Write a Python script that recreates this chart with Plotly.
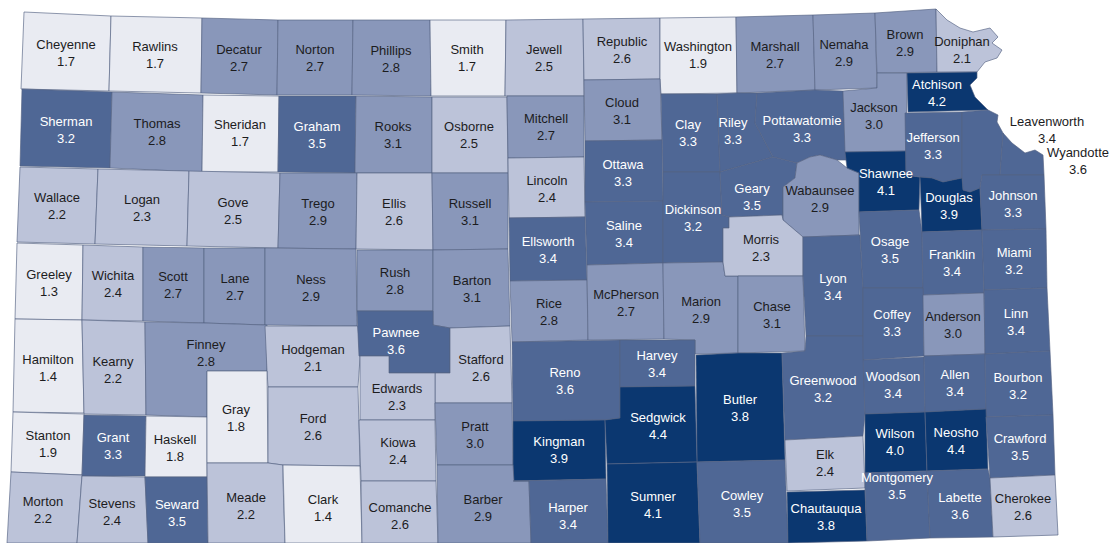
import plotly.graph_objects as go

COUNTIES = ["Cheyenne","Rawlins","Decatur","Norton","Phillips","Smith","Jewell","Republic","Washington","Marshall","Nemaha","Brown","Doniphan",
"Sherman","Thomas","Sheridan","Graham","Rooks","Osborne","Mitchell","Cloud","Clay","Riley","Pottawatomie","Jackson","Atchison",
"Wallace","Logan","Gove","Trego","Ellis","Russell","Lincoln","Ottawa","Saline","Dickinson","Geary","Wabaunsee","Shawnee","Jefferson","Leavenworth","Wyandotte",
"Greeley","Wichita","Scott","Lane","Ness","Rush","Barton","Ellsworth","Rice","McPherson","Marion","Morris","Chase","Lyon","Osage","Douglas","Johnson","Franklin","Miami",
"Hamilton","Kearny","Finney","Hodgeman","Pawnee","Stafford","Edwards","Reno","Harvey","Butler","Greenwood","Coffey","Anderson","Linn","Woodson","Allen","Bourbon",
"Stanton","Grant","Haskell","Gray","Ford","Kiowa","Pratt","Kingman","Sedgwick","Wilson","Neosho","Crawford","Elk",
"Morton","Stevens","Seward","Meade","Clark","Comanche","Barber","Harper","Sumner","Cowley","Chautauqua","Montgomery","Labette","Cherokee"]
RATES = [1.7,1.7,2.7,2.7,2.8,1.7,2.5,2.6,1.9,2.7,2.9,2.9,2.1,
3.2,2.8,1.7,3.5,3.1,2.5,2.7,3.1,3.3,3.3,3.3,3.0,4.2,
2.2,2.3,2.5,2.9,2.6,3.1,2.4,3.3,3.4,3.2,3.5,2.9,4.1,3.3,3.4,3.6,
1.3,2.4,2.7,2.7,2.9,2.8,3.1,3.4,2.8,2.7,2.9,2.3,3.1,3.4,3.5,3.9,3.3,3.4,3.2,
1.4,2.2,2.8,2.1,3.6,2.6,2.3,3.6,3.4,3.8,3.2,3.3,3.0,3.4,3.4,3.4,3.2,
1.9,3.3,1.8,1.8,2.6,2.4,3.0,3.9,4.4,4.0,4.4,3.5,2.4,
2.2,2.4,3.5,2.2,1.4,2.6,2.9,3.4,4.1,3.5,3.8,3.5,3.6,2.6]

BIN_TOPS = [2.0, 2.65, 3.15, 3.7, 9.9]
BIN_COLORS = ["#e9ebf2", "#bcc3d9", "#8997ba", "#4f6795", "#0b3770"]
INK_ON_BIN = ["#1c1c1e", "#1c1c1e", "#1c1c1e", "#ffffff", "#ffffff"]

# County outlines (map geometry, in the picture's own coordinate frame)
OUTLINES = {
"Cheyenne":[(24,12),(111,16),(109,91),(21,89)],
"Rawlins":[(111,16),(202,18),(201,93),(109,91)],
"Decatur":[(202,18),(278,20),(277,95),(201,93)],
"Norton":[(278,20),(353,20),(352,95),(277,95)],
"Phillips":[(353,20),(430,20),(431,96),(352,95)],
"Smith":[(430,20),(506,20),(505,96),(431,96)],
"Jewell":[(506,20),(583,19),(584,96),(505,96)],
"Republic":[(583,19),(660,18),(660,79),(584,80)],
"Washington":[(660,18),(736,17),(737,93),(661,94),(660,79)],
"Marshall":[(736,17),(813,15),(815,90),(737,93)],
"Nemaha":[(813,15),(875,13),(877,88),(815,90)],
"Brown":[(875,13),(936,9),(937,72),(877,73)],
"Doniphan":[(936,9),(947,20),(960,28),(973,32),(990,28),(998,37),(992,43),(1002,50),(997,58),(985,62),(977,72),(937,72)],
"Sherman":[(22,89),(112,92),(110,168),(20,166)],
"Thomas":[(112,92),(203,95),(202,172),(110,168)],
"Sheridan":[(203,95),(279,96),(278,172),(202,172)],
"Graham":[(279,96),(356,96),(355,173),(278,172)],
"Rooks":[(356,96),(432,97),(432,173),(355,173)],
"Osborne":[(432,97),(507,97),(508,173),(432,173)],
"Mitchell":[(507,96),(584,96),(584,157),(508,158)],
"Cloud":[(584,80),(660,79),(662,140),(585,141)],
"Clay":[(661,94),(717,94),(720,172),(663,172)],
"Riley":[(717,94),(737,93),(757,93),(755,123),(773,157),(720,172)],
"Pottawatomie":[(757,93),(815,90),(843,91),(845,151),(846,160),(837,160),(820,155),(810,157),(797,163),(773,157),(755,123)],
"Jackson":[(843,91),(877,88),(877,73),(907,73),(906,151),(845,152)],
"Atchison":[(907,73),(977,72),(977,78),(970,85),(975,97),(988,110),(908,112)],
"Wallace":[(20,167),(98,169),(95,244),(17,242)],
"Logan":[(98,169),(189,171),(187,246),(95,244)],
"Gove":[(189,171),(280,173),(278,248),(187,246)],
"Trego":[(280,173),(357,173),(356,249),(278,248)],
"Ellis":[(357,173),(432,173),(433,250),(356,249)],
"Russell":[(432,173),(508,173),(508,249),(433,250)],
"Lincoln":[(508,158),(584,157),(585,217),(509,218)],
"Ottawa":[(585,141),(662,140),(663,201),(585,202)],
"Saline":[(585,202),(663,201),(663,263),(587,265)],
"Dickinson":[(663,172),(720,172),(722,215),(729,217),(729,228),(723,228),(723,262),(663,263)],
"Geary":[(720,172),(773,157),(797,163),(795,178),(783,187),(783,220),(782,215),(729,217),(722,215)],
"Wabaunsee":[(797,163),(810,157),(820,155),(837,160),(847,168),(859,173),(859,235),(803,237),(783,220),(783,187),(795,178)],
"Shawnee":[(845,152),(906,151),(906,175),(920,177),(919,210),(859,212),(859,173),(847,168),(846,160)],
"Jefferson":[(905,113),(962,112),(962,178),(943,182),(932,178),(920,177),(906,175)],
"Leavenworth":[(962,112),(988,110),(998,115),(997,122),(1003,133),(1000,175),(982,175),(980,188),(970,192),(963,190),(962,178)],
"Wyandotte":[(1003,133),(1012,143),(1025,153),(1035,150),(1043,155),(1044,175),(1000,175)],
"Greeley":[(17,243),(83,245),(82,320),(15,319)],
"Wichita":[(83,245),(143,247),(143,321),(82,320)],
"Scott":[(143,247),(204,248),(204,323),(143,321)],
"Lane":[(204,248),(265,248),(265,325),(204,323)],
"Ness":[(265,248),(356,249),(357,326),(265,325)],
"Rush":[(357,250),(433,250),(433,311),(357,311)],
"Barton":[(433,250),(508,249),(510,326),(450,328),(433,325)],
"Ellsworth":[(509,218),(585,217),(587,280),(510,281)],
"Rice":[(510,281),(587,280),(588,340),(512,342)],
"McPherson":[(587,265),(663,263),(664,339),(588,340)],
"Marion":[(663,263),(723,262),(725,276),(738,276),(738,353),(695,354),(695,340),(664,339)],
"Morris":[(729,217),(782,215),(783,220),(803,237),(803,276),(725,276),(723,262),(723,228),(729,228)],
"Chase":[(738,276),(803,276),(805,351),(738,353)],
"Lyon":[(803,237),(860,235),(863,288),(863,336),(806,336),(803,276)],
"Osage":[(859,212),(919,210),(922,232),(923,288),(863,288),(860,235)],
"Douglas":[(920,177),(932,178),(943,182),(962,178),(963,190),(970,192),(980,188),(982,230),(922,232)],
"Johnson":[(982,175),(1044,175),(1046,229),(982,230),(980,188)],
"Franklin":[(922,232),(982,230),(984,293),(923,295)],
"Miami":[(982,230),(1046,229),(1047,288),(984,290)],
"Hamilton":[(15,319),(82,320),(84,413),(13,412)],
"Kearny":[(82,320),(145,322),(146,415),(84,414)],
"Finney":[(145,322),(204,323),(265,325),(267,325),(267,371),(207,371),(207,417),(146,415)],
"Hodgeman":[(265,326),(358,326),(360,358),(358,387),(268,387),(267,371)],
"Pawnee":[(357,311),(433,311),(433,325),(450,328),(450,373),(389,373),(389,356),(359,356)],
"Stafford":[(450,328),(510,326),(512,403),(435,403),(435,373),(450,373)],
"Edwards":[(360,356),(389,356),(389,373),(435,373),(435,420),(360,420)],
"Reno":[(512,342),(620,340),(620,418),(605,420),(513,421)],
"Harvey":[(620,340),(695,340),(695,386),(620,387)],
"Butler":[(696,355),(738,353),(782,353),(785,460),(697,462)],
"Greenwood":[(782,353),(805,351),(806,336),(863,336),(865,414),(863,436),(785,440)],
"Coffey":[(863,288),(923,288),(924,356),(863,360)],
"Anderson":[(923,295),(984,293),(985,354),(924,356)],
"Linn":[(984,290),(1047,288),(1050,351),(985,354)],
"Woodson":[(863,360),(924,357),(925,412),(865,414)],
"Allen":[(924,356),(985,354),(986,409),(925,412)],
"Bourbon":[(985,354),(1050,351),(1053,415),(986,417)],
"Stanton":[(13,412),(84,414),(82,475),(11,472)],
"Grant":[(84,415),(146,416),(145,476),(82,476)],
"Haskell":[(146,416),(207,417),(207,477),(145,477)],
"Gray":[(207,371),(267,371),(268,463),(207,463)],
"Ford":[(268,387),(358,387),(360,466),(283,465),(268,463)],
"Kiowa":[(359,420),(435,420),(436,481),(361,481)],
"Pratt":[(435,403),(512,403),(513,465),(437,465)],
"Kingman":[(513,421),(605,420),(606,479),(513,481)],
"Sedgwick":[(620,387),(695,386),(697,462),(607,464),(605,420),(620,418)],
"Wilson":[(865,414),(925,412),(927,471),(865,473)],
"Neosho":[(925,412),(986,409),(988,469),(927,471)],
"Crawford":[(986,417),(1053,415),(1055,475),(990,478)],
"Elk":[(785,440),(863,436),(865,488),(787,491)],
"Morton":[(11,472),(82,475),(77,543),(7,543)],
"Stevens":[(82,476),(145,477),(148,543),(77,543)],
"Seward":[(145,477),(207,477),(208,543),(148,543)],
"Meade":[(207,463),(268,463),(283,465),(283,481),(285,543),(208,543)],
"Clark":[(283,465),(360,466),(362,543),(285,543)],
"Comanche":[(361,481),(436,481),(438,543),(362,543)],
"Barber":[(437,465),(513,465),(514,481),(529,481),(531,543),(438,543)],
"Harper":[(513,481),(606,479),(608,543),(531,543),(529,481)],
"Sumner":[(607,464),(697,462),(700,543),(608,543)],
"Cowley":[(697,462),(785,460),(788,543),(700,543)],
"Chautauqua":[(787,492),(865,490),(867,541),(788,543)],
"Montgomery":[(865,473),(927,471),(930,538),(867,541),(865,488)],
"Labette":[(927,471),(988,469),(990,478),(993,537),(930,538)],
"Cherokee":[(990,478),(1055,475),(1058,535),(993,537)],
}

LABEL_AT = {
"Cheyenne":(66,54),"Rawlins":(155,56),"Decatur":(239,59),"Norton":(315,59),"Phillips":(391,60),"Smith":(467,59),"Jewell":(544,59),"Republic":(622,51),"Washington":(698,56),"Marshall":(775,56),"Nemaha":(844,54),"Brown":(905,44),"Doniphan":(962,51),
"Sherman":(66,131),"Thomas":(157,133),"Sheridan":(240,134),"Graham":(317,136),"Rooks":(393,136),"Osborne":(469,136),"Mitchell":(546,128),"Cloud":(622,112),"Clay":(688,134),"Riley":(733,132),"Pottawatomie":(802,130),"Jackson":(874,117),"Atchison":(937,94),
"Wallace":(57,207),"Logan":(142,209),"Gove":(233,212),"Trego":(318,213),"Ellis":(394,213),"Russell":(470,213),"Lincoln":(547,190),"Ottawa":(623,174),"Saline":(624,235),"Dickinson":(693,219),"Geary":(752,198),"Wabaunsee":(820,200),"Shawnee":(886,183),"Jefferson":(933,147),"Leavenworth":(1047,131),"Wyandotte":(1078,162),
"Greeley":(49,284),"Wichita":(113,285),"Scott":(173,286),"Lane":(235,288),"Ness":(311,289),"Rush":(395,282),"Barton":(472,290),"Ellsworth":(548,251),"Rice":(549,313),"McPherson":(626,304),"Marion":(701,311),"Morris":(761,249),"Chase":(772,316),"Lyon":(833,288),"Osage":(890,251),"Douglas":(949,207),"Johnson":(1013,205),"Franklin":(952,264),"Miami":(1014,262),
"Hamilton":(48,369),"Kearny":(113,371),"Finney":(206,354),"Hodgeman":(313,359),"Pawnee":(396,342),"Stafford":(481,369),"Edwards":(397,398),"Reno":(565,382),"Harvey":(657,365),"Butler":(740,409),"Greenwood":(823,390),"Coffey":(892,324),"Anderson":(953,326),"Linn":(1016,323),"Woodson":(893,386),"Allen":(955,384),"Bourbon":(1018,387),
"Stanton":(48,445),"Grant":(113,447),"Haskell":(175,449),"Gray":(236,419),"Ford":(313,428),"Kiowa":(398,452),"Pratt":(475,436),"Kingman":(559,451),"Sedgwick":(658,427),"Wilson":(895,443),"Neosho":(956,442),"Crawford":(1020,448),"Elk":(825,464),
"Morton":(43,511),"Stevens":(112,513),"Seward":(177,514),"Meade":(246,507),"Clark":(323,509),"Comanche":(400,517),"Barber":(483,509),"Harper":(568,517),"Sumner":(653,506),"Cowley":(742,505),"Chautauqua":(826,518),"Montgomery":(897,487),"Labette":(960,507),"Cherokee":(1023,508),
}
OUTSIDE_LABELS = {"Leavenworth", "Wyandotte"}


def bin_of(rate):
    for i, top in enumerate(BIN_TOPS):
        if rate < top:
            return i
    return len(BIN_TOPS) - 1


fig = go.Figure()
for name, rate in zip(COUNTIES, RATES):
    pts = OUTLINES[name] + [OUTLINES[name][0]]
    fig.add_trace(go.Scatter(
        x=[p[0] for p in pts], y=[p[1] for p in pts],
        mode="lines", fill="toself", fillcolor=BIN_COLORS[bin_of(rate)],
        line=dict(color="rgba(84,98,130,0.65)", width=1),
        name=name, hoverinfo="text", text=f"{name} {rate:.1f}", showlegend=False))

label_colors = ["#1c1c1e" if n in OUTSIDE_LABELS else INK_ON_BIN[bin_of(r)] for n, r in zip(COUNTIES, RATES)]
fig.add_trace(go.Scatter(
    x=[LABEL_AT[n][0] for n in COUNTIES], y=[LABEL_AT[n][1] for n in COUNTIES],
    mode="text", text=[f"{n}<br>{r:.1f}" for n, r in zip(COUNTIES, RATES)],
    textposition="middle center",
    textfont=dict(family="Liberation Sans, Arial, sans-serif", size=13, color=label_colors),
    hoverinfo="skip", showlegend=False))

fig.update_xaxes(range=[0, 1110], visible=False, fixedrange=True)
fig.update_yaxes(range=[543, 0], visible=False, fixedrange=True)
fig.update_layout(width=1110, height=543, margin=dict(l=0, r=0, t=0, b=0),
                  paper_bgcolor="white", plot_bgcolor="white", showlegend=False)
fig.write_html("out.html", config={"displayModeBar": False},
               post_script="document.body.style.margin='0';document.body.style.overflow='hidden';")
